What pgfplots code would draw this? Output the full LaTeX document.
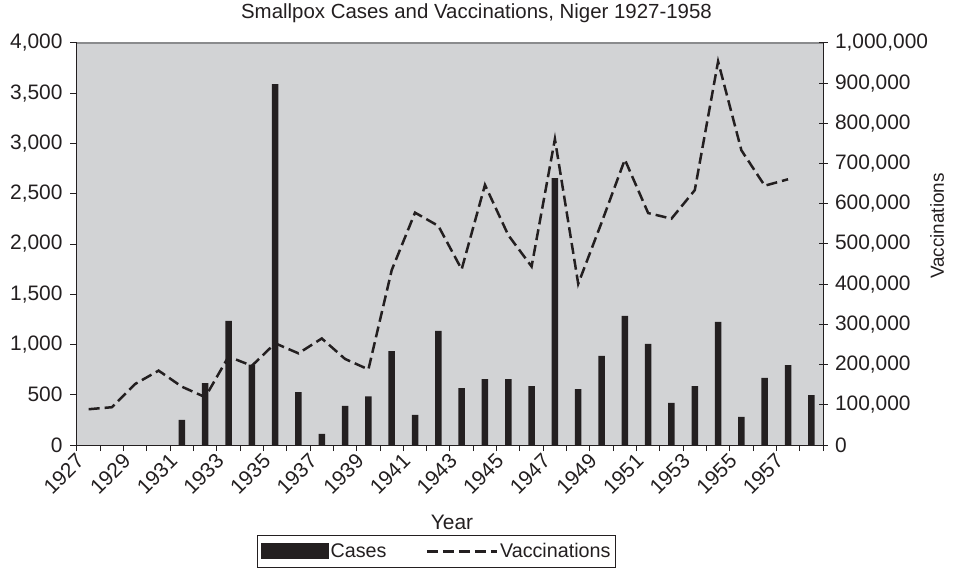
\documentclass[border=0pt]{standalone}
\usepackage{fontspec}
\setmainfont{Liberation Sans}
\usepackage{pgfplots}
\pgfplotsset{compat=1.18}
\definecolor{bgc}{HTML}{D2D3D5}
\definecolor{ink}{HTML}{231F20}
\definecolor{topc}{HTML}{8A8B8D}

\begin{document}
\begin{tikzpicture}
\pgfplotsset{
 common/.style={scale only axis, width=746bp, height=402bp,
   xmin=1926.5, xmax=1958.5,
   /pgf/number format/assume math mode=true,
   /pgf/number format/fixed,
   /pgf/number format/precision=0,
   tick label style={font=\fontsize{21}{24}\selectfont, text=ink},
   axis line style={ink, line width=1bp},
   every tick/.style={ink, line width=1bp},
   scaled ticks=false,
 }
}
\begin{axis}[common, name=ax1, clip=false,
  axis background/.style={fill=bgc},
  axis x line*=bottom, axis y line*=left,
  ymin=0, ymax=4000, ytick={0,500,...,4000},
  yticklabel style={/pgf/number format/1000 sep={,}, xshift=-4bp},
  xtick={1927,1929,...,1957},
  xticklabel style={/pgf/number format/1000 sep={}, xshift=-6bp, yshift=-3bp, rotate=45, anchor=east},
  minor xtick={1926.5,1927.5,...,1958.5},
  major x tick style={draw=none},
  tick align=outside, major tick length=7bp, minor tick length=6bp,
  xlabel={Year},
  xlabel style={font=\fontsize{21}{24}\selectfont, text=ink, at={(axis description cs:0.5027,-0.209)}, anchor=base},
]
\addplot[ybar, bar width=6.5bp, fill=ink, draw=none] coordinates {
(1931,250) (1932,615) (1933,1235) (1934,800) (1935,3590) (1936,525)
(1937,110) (1938,390) (1939,485) (1940,935) (1941,300) (1942,1135)
(1943,565) (1944,655) (1945,655) (1946,587) (1947,2655) (1948,557)
(1949,886) (1950,1284) (1951,1005) (1952,418) (1953,587) (1954,1224)
(1955,279) (1956,667) (1957,796) (1958,497)
};
\draw[topc, line width=1.5bp] (rel axis cs:0,1) -- (rel axis cs:1,1);
\end{axis}
\begin{axis}[common,
  axis x line=none, axis y line*=right,
  ymin=0, ymax=1000000,
  ytick={0,100000,200000,300000,400000,500000,600000,700000,800000,900000,1000000},
  yticklabel style={/pgf/number format/1000 sep={,}, xshift=4bp},
  tick align=center, major tick length=9bp,
  ylabel={Vaccinations},
  ylabel style={font=\fontsize{19}{22}\selectfont, text=ink, at={(axis description cs:1.1528,0.5448)}, anchor=center},
  legend columns=2,
  legend style={at={(axis description cs:0.482,-0.224)}, anchor=north,
    draw=ink, line width=1bp, fill=white,
    font=\fontsize{19.8}{22}\selectfont, text=ink,
    inner xsep=3bp, inner ysep=6bp,
    nodes={inner sep=2bp},
    /tikz/every even column/.append style={column sep=37bp}},
  legend cell align=left,
]
\addlegendimage{legend image code/.code={\fill[ink] (0bp,-7.5bp) rectangle (67bp,7.5bp);}}
\addlegendentry{Cases}
\addplot[ink, line width=2.5bp, dash pattern=on 11bp off 5bp,
  legend image code/.code={\draw[ink, line width=2.5bp, dash pattern=on 11bp off 5bp] (0bp,0bp) -- (70bp,0bp);}] coordinates {
(1927,89000) (1928,94000) (1929,152000) (1930,185000) (1931,145000)
(1932,119000) (1933,220000) (1934,197000) (1935,253000) (1936,228000)
(1937,265000) (1938,214000) (1939,188000) (1940,435000) (1941,578000)
(1942,545000) (1943,437000) (1944,647000) (1945,522000) (1946,444000)
(1947,761000) (1948,401000) (1949,553000) (1950,710000) (1951,577000)
(1952,563000) (1953,634000) (1954,954000) (1955,733000) (1956,645000)
(1957,661000)
};
\addlegendentry{Vaccinations}
\end{axis}
\node[font=\fontsize{20.5}{24}\selectfont, text=ink, anchor=base] at ([shift={(26.5bp,24bp)}]ax1.north) {Smallpox Cases and Vaccinations, Niger 1927-1958};
\pgfresetboundingbox
\path ([shift={(-77bp,-128bp)}]ax1.south west) rectangle ([shift={(131bp,43bp)}]ax1.north east);
\end{tikzpicture}
\end{document}
